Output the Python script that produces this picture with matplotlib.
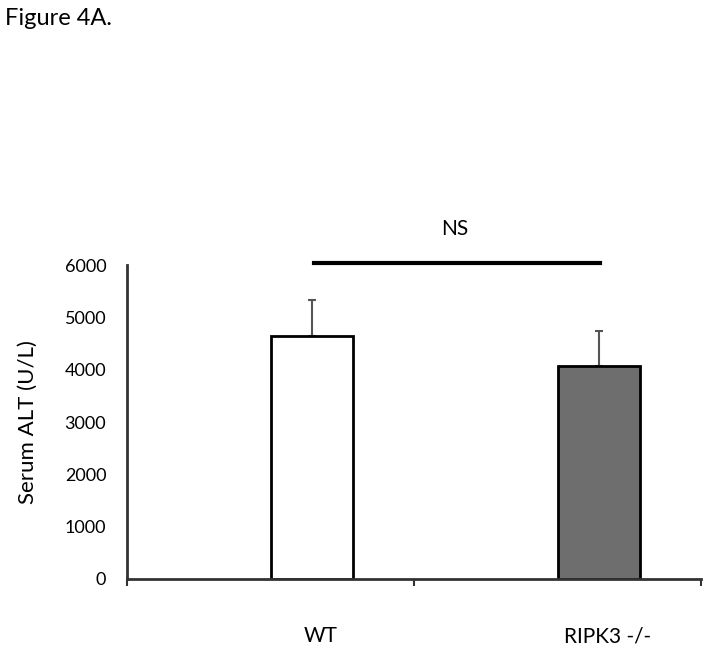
import matplotlib.pyplot as plt

groups = ["WT", "RIPK3 -/-"]
alt_mean = [4650, 4070]
alt_err = [680, 670]
bar_colors = ["white", "#6e6e6e"]

plt.rcParams['font.family'] = ['Lato', 'DejaVu Sans']

fig = plt.figure(figsize=(7.1, 6.54), dpi=100)
ax = fig.add_axes([0.179, 0.1147, 0.808, 0.480])

xpos = [0.645, 1.645]
ax.bar(xpos, alt_mean, width=0.286, color=bar_colors, edgecolor="black",
       linewidth=2, zorder=2)
ax.errorbar(xpos, alt_mean, yerr=[[0, 0], alt_err], fmt="none",
            ecolor="#555555", elinewidth=1.5, capsize=3, capthick=1.5, zorder=1)

ax.set_xlim(0, 2)
ax.set_ylim(0, 6000)
ax.set_yticks(range(0, 6001, 1000))
ax.tick_params(axis="y", length=0, pad=15, labelsize=13)
ax.set_xticks([0, 1, 2])
ax.set_xticklabels([])
ax.tick_params(axis="x", which="major", direction="out", length=5, width=1.5,
               color="#333333")
ax.set_xticks([p + 0.03 for p in xpos], minor=True)
ax.set_xticklabels(groups, minor=True)
ax.tick_params(axis="x", which="minor", length=0, pad=34, labelsize=15)

for s in ["top", "right"]:
    ax.spines[s].set_visible(False)
for s in ["left", "bottom"]:
    ax.spines[s].set_linewidth(2)
    ax.spines[s].set_color("#333333")

ax.set_ylabel("Serum ALT (U/L)", fontsize=16, labelpad=19)

# significance bar
ax.plot([0.652, 1.648], [6040, 6040], color="black", linewidth=3, clip_on=False)
ax.text(1.143, 6680, "NS", ha="center", va="center", fontsize=15)

fig.text(0.007, 0.972, "Figure 4A.", ha="left", va="center", fontsize=17)

fig.savefig("out.png", dpi=100)
